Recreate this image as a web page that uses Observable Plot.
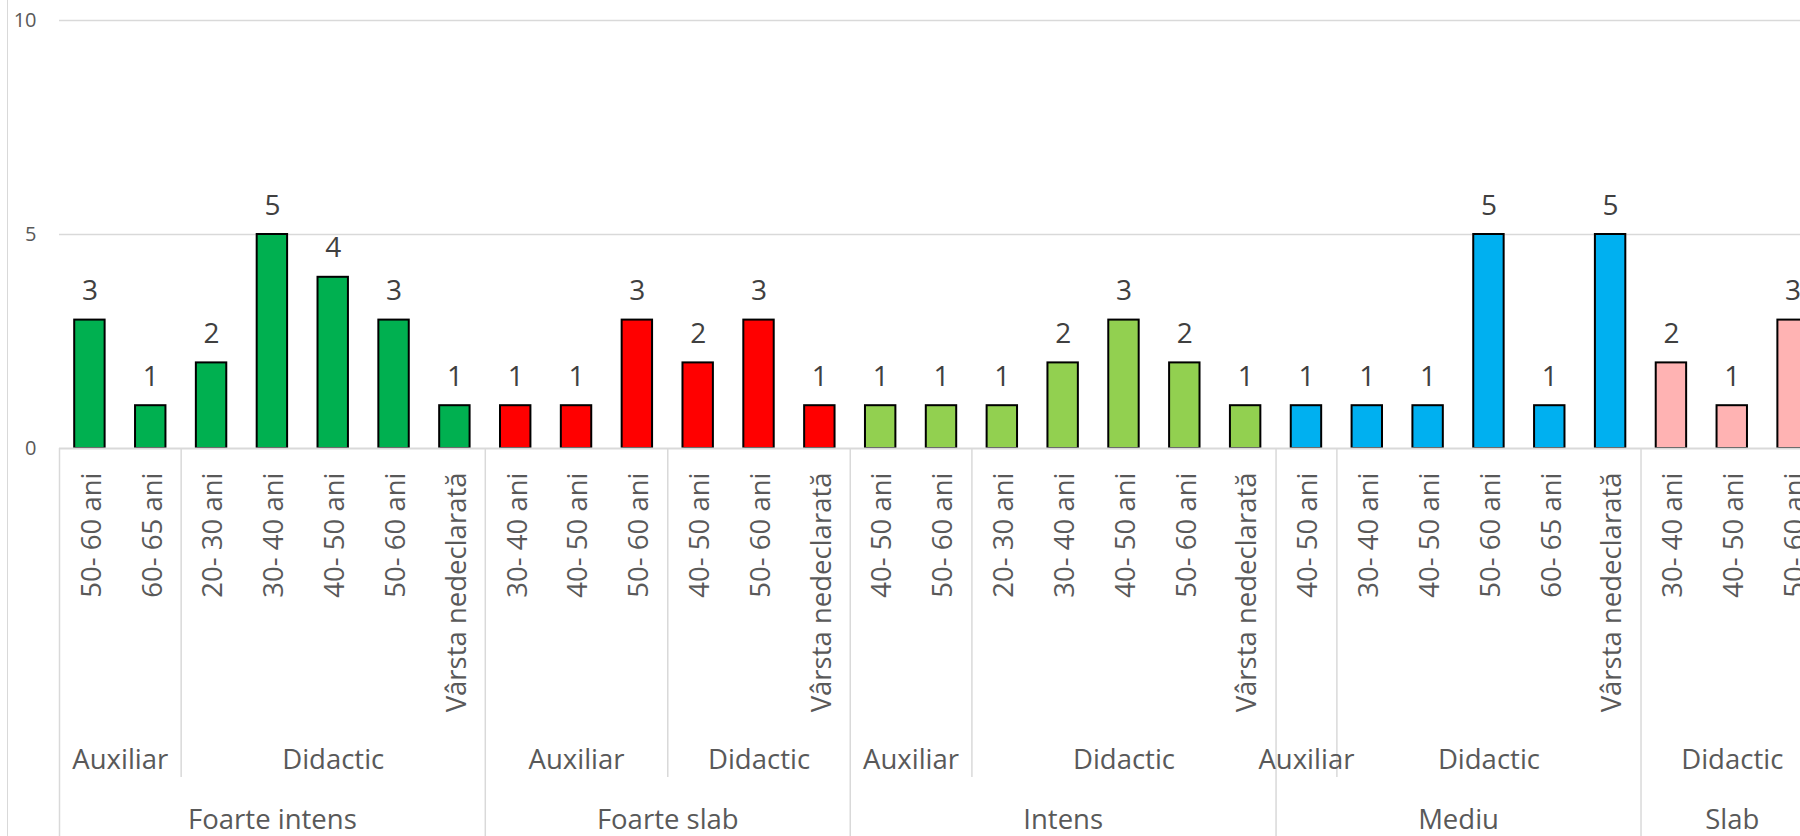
<!DOCTYPE html>
<html>
<head>
<meta charset="utf-8">
<script src="https://cdn.jsdelivr.net/npm/d3@7"></script>
<script src="https://cdn.jsdelivr.net/npm/@observablehq/plot@0.6"></script>
<style>
  html, body { margin: 0; padding: 0; background: #fff; overflow: hidden; width: 1800px; height: 836px; }
  #wrap { position: relative; width: 1800px; height: 836px; overflow: hidden; }
  #border { position: absolute; left: 7px; top: 0; width: 0; height: 836px; border-left: 1.5px solid #d9d9d9; }
  #chart { position: absolute; left: 0; top: 0; width: 1823px; height: 836px; }
  #chart svg { max-width: none !important; width: 1823px !important; height: 836px !important; }
</style>
</head>
<body>
<div id="wrap"><div id="border"></div><div id="chart"></div></div>
<script>
const intensitati = [
  "Foarte intens","Foarte intens","Foarte intens","Foarte intens","Foarte intens","Foarte intens","Foarte intens",
  "Foarte slab","Foarte slab","Foarte slab","Foarte slab","Foarte slab","Foarte slab",
  "Intens","Intens","Intens","Intens","Intens","Intens","Intens",
  "Mediu","Mediu","Mediu","Mediu","Mediu","Mediu",
  "Slab","Slab","Slab"
];
const categorii = [
  "Auxiliar","Auxiliar","Didactic","Didactic","Didactic","Didactic","Didactic",
  "Auxiliar","Auxiliar","Auxiliar","Didactic","Didactic","Didactic",
  "Auxiliar","Auxiliar","Didactic","Didactic","Didactic","Didactic","Didactic",
  "Auxiliar","Didactic","Didactic","Didactic","Didactic","Didactic",
  "Didactic","Didactic","Didactic"
];
const varste = [
  "50- 60 ani","60- 65 ani","20- 30 ani","30- 40 ani","40- 50 ani","50- 60 ani","Vârsta nedeclarată",
  "30- 40 ani","40- 50 ani","50- 60 ani","40- 50 ani","50- 60 ani","Vârsta nedeclarată",
  "40- 50 ani","50- 60 ani","20- 30 ani","30- 40 ani","40- 50 ani","50- 60 ani","Vârsta nedeclarată",
  "40- 50 ani","30- 40 ani","40- 50 ani","50- 60 ani","60- 65 ani","Vârsta nedeclarată",
  "30- 40 ani","40- 50 ani","50- 60 ani"
];
const valori = [
  3,1,2,5,4,3,1,
  1,1,3,2,3,1,
  1,1,1,2,3,2,1,
  1,1,1,5,1,5,
  2,1,3
];
const grupeIntensitate = ["Foarte intens","Foarte slab","Intens","Mediu","Slab"];
const culori = ["#00b050","#ff0000","#92d050","#00b0f0","#ffb3b3"];
const yTicks = [0,5,10];

const rows = valori.map((v, i) => ({i, v, intens: intensitati[i], cat: categorii[i], age: varste[i]}));
const n = rows.length;

function runs(keyFn, labelFn) {
  const out = [];
  rows.forEach((r, i) => {
    const k = keyFn(r);
    if (out.length && out[out.length-1].key === k) out[out.length-1].end = i + 1;
    else out.push({key: k, label: labelFn(r), start: i, end: i + 1});
  });
  return out;
}
const grup1 = runs(r => r.intens, r => r.intens);
const grup2 = runs(r => r.intens + "|" + r.cat, r => r.cat);
const sep1 = grup1.map(g => g.start).concat([n]);
const sep2 = grup2.map(g => g.start).filter(s => !sep1.includes(s));

const W = 1823, H = 836, mT = 20, mB = 388, mL = 59;
const plotH = H - mT - mB;

const chart = Plot.plot({
  width: W, height: H,
  marginLeft: mL, marginRight: 0, marginTop: mT, marginBottom: mB,
  style: {fontFamily: "'Open Sans', sans-serif", background: "transparent", overflow: "visible", maxWidth: "none"},
  x: {domain: [0, n], axis: null},
  y: {domain: [0, 10], axis: null},
  color: {domain: grupeIntensitate, range: culori},
  marks: [
    Plot.ruleY([5, 10], {stroke: "#d9d9d9", strokeWidth: 1.5}),
    Plot.axisY(yTicks, {tickSize: 0, tickPadding: 23, fontSize: 20, fill: "#595959", label: null}),
    Plot.rectY(rows, {x1: d => d.i + 0.25, x2: d => d.i + 0.75, y: "v", fill: "intens", stroke: "#000", strokeWidth: 2}),
    Plot.ruleY([0], {stroke: "#d9d9d9", strokeWidth: 2}),
    Plot.text(rows, {x: d => d.i + 0.5, y: "v", text: "v", lineAnchor: "bottom", dy: -20, fontSize: 28, fill: "#404040"}),
    Plot.text(rows, {x: d => d.i + 0.5, text: "age", frameAnchor: "bottom", rotate: -90, textAnchor: "end", lineAnchor: "middle", dx: 2, dy: 24, fontSize: 27.5, fill: "#595959"}),
    Plot.ruleX(sep1, {stroke: "#d9d9d9", strokeWidth: 1.5, insetTop: plotH, insetBottom: -mB}),
    Plot.ruleX(sep2, {stroke: "#d9d9d9", strokeWidth: 1.5, insetTop: plotH, insetBottom: -329}),
    Plot.text(grup2, {x: d => (d.start + d.end) / 2, text: "label", frameAnchor: "bottom", lineAnchor: "bottom", dy: 320, fontSize: 27.5, fill: "#595959"}),
    Plot.text(grup1, {x: d => (d.start + d.end) / 2, text: "label", frameAnchor: "bottom", lineAnchor: "bottom", dy: 380, fontSize: 27.5, fill: "#595959"})
  ]
});
document.getElementById("chart").appendChild(chart);
</script>
</body>
</html>
